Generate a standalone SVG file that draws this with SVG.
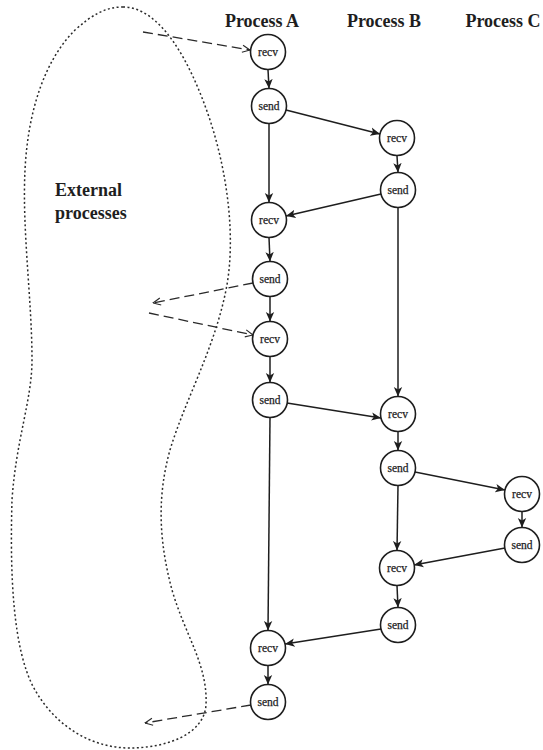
<svg xmlns="http://www.w3.org/2000/svg" width="543" height="750" viewBox="0 0 543 750">
  <style>
    .node circle { fill: #fff; stroke: #1e1e1e; stroke-width: 1.6; }
    .node text { font-family: "Liberation Serif", "Times New Roman", serif; font-size: 11.5px; fill: #222; stroke: #222; stroke-width: 0.25; text-anchor: middle; }
    .title { font-family: "Liberation Serif", "Times New Roman", serif; font-size: 18px; font-weight: bold; fill: #1e1e1e; }
    .msg { stroke: #1e1e1e; stroke-width: 1.5; fill: none; marker-end: url(#arrow); }
    .ext { stroke: #2a2a2a; stroke-width: 1.3; fill: none; stroke-dasharray: 10 5; marker-end: url(#open); }
    .blob { fill: none; stroke: #2a2a2a; stroke-width: 1.5; stroke-dasharray: 2 2.5; }
  </style>
  <defs>
    <marker id="arrow" viewBox="0 0 10 10" refX="10" refY="5" markerWidth="9.5" markerHeight="9.5" markerUnits="userSpaceOnUse" orient="auto">
      <path d="M0,0.6 L10,5 L0,9.4 L2.5,5 z" fill="#1e1e1e"/>
    </marker>
    <marker id="open" viewBox="0 0 10 10" refX="9.5" refY="5" markerWidth="9" markerHeight="9" markerUnits="userSpaceOnUse" orient="auto">
      <path d="M1,1 L9.5,5 L1,9" fill="none" stroke="#2a2a2a" stroke-width="1.3"/>
    </marker>
  </defs>

  <rect width="543" height="750" fill="#fff"/>

  <!-- region of external processes -->
  <path class="blob" d="M123 7 C160 7 190 60 210 120 C228 175 236 240 226 290 C214 350 185 400 170 450 C156 500 160 545 172 590 C185 635 208 665 206 705 C204 735 165 748 130 748 C90 748 55 725 35 690 C12 650 10 570 12 500 C16 440 32 400 32 360 C32 300 22 230 25 170 C28 110 45 60 75 30 C92 15 105 7 123 7 Z"/>

  <!-- column headings -->
  <text class="title" x="262" y="27" text-anchor="middle">Process A</text>
  <text class="title" x="384" y="27" text-anchor="middle">Process B</text>
  <text class="title" x="503" y="27" text-anchor="middle">Process C</text>
  <text class="title" x="55" y="196">External</text>
  <text class="title" x="55" y="219">processes</text>

  <g id="connectors">
    <!-- Process A -->
    <line class="msg" x1="268" y1="69.5" x2="269" y2="88.5"/>
    <line class="msg" x1="269" y1="123.5" x2="269" y2="202.5"/>
    <line class="msg" x1="269" y1="237.5" x2="270" y2="261.5"/>
    <line class="msg" x1="270" y1="296.5" x2="270" y2="321.5"/>
    <line class="msg" x1="270" y1="356.5" x2="270" y2="382.5"/>
    <line class="msg" x1="270" y1="417.5" x2="268" y2="630.5"/>
    <line class="msg" x1="268" y1="665.5" x2="268" y2="684.5"/>
    <!-- Process B -->
    <line class="msg" x1="397" y1="155.5" x2="398" y2="172.5"/>
    <line class="msg" x1="398" y1="207.5" x2="398" y2="396.5"/>
    <line class="msg" x1="398" y1="431.5" x2="398" y2="450.5"/>
    <line class="msg" x1="398" y1="485.5" x2="397" y2="550.5"/>
    <line class="msg" x1="397" y1="585.5" x2="398" y2="607.5"/>
    <!-- Process C -->
    <line class="msg" x1="522" y1="511.5" x2="522" y2="527.5"/>
    <!-- messages between processes -->
    <line class="msg" x1="286" y1="110" x2="380" y2="134"/>
    <line class="msg" x1="381" y1="194" x2="286" y2="216"/>
    <line class="msg" x1="287" y1="403" x2="381" y2="418"/>
    <line class="msg" x1="415" y1="472" x2="505" y2="490"/>
    <line class="msg" x1="505" y1="548" x2="414" y2="565"/>
    <line class="msg" x1="381" y1="629" x2="285" y2="644"/>
    <!-- messages to and from external processes -->
    <line class="ext" x1="143" y1="32" x2="250" y2="50"/>
    <line class="ext" x1="253" y1="283" x2="153" y2="303"/>
    <line class="ext" x1="149" y1="313" x2="253" y2="335"/>
    <line class="ext" x1="251" y1="705" x2="145" y2="723"/>
  </g>

  <g id="A1" class="node"><circle cx="268" cy="52" r="17.5"/><text x="268" y="55.5">recv</text></g>
  <g id="A2" class="node"><circle cx="269" cy="106" r="17.5"/><text x="269" y="109.5">send</text></g>
  <g id="A3" class="node"><circle cx="269" cy="220" r="17.5"/><text x="269" y="223.5">recv</text></g>
  <g id="A4" class="node"><circle cx="270" cy="279" r="17.5"/><text x="270" y="282.5">send</text></g>
  <g id="A5" class="node"><circle cx="270" cy="339" r="17.5"/><text x="270" y="342.5">recv</text></g>
  <g id="A6" class="node"><circle cx="270" cy="400" r="17.5"/><text x="270" y="403.5">send</text></g>
  <g id="A7" class="node"><circle cx="268" cy="648" r="17.5"/><text x="268" y="651.5">recv</text></g>
  <g id="A8" class="node"><circle cx="268" cy="702" r="17.5"/><text x="268" y="705.5">send</text></g>

  <g id="B1" class="node"><circle cx="397" cy="138" r="17.5"/><text x="397" y="141.5">recv</text></g>
  <g id="B2" class="node"><circle cx="398" cy="190" r="17.5"/><text x="398" y="193.5">send</text></g>
  <g id="B3" class="node"><circle cx="398" cy="414" r="17.5"/><text x="398" y="417.5">recv</text></g>
  <g id="B4" class="node"><circle cx="398" cy="468" r="17.5"/><text x="398" y="471.5">send</text></g>
  <g id="B5" class="node"><circle cx="397" cy="568" r="17.5"/><text x="397" y="571.5">recv</text></g>
  <g id="B6" class="node"><circle cx="398" cy="625" r="17.5"/><text x="398" y="628.5">send</text></g>

  <g id="C1" class="node"><circle cx="522" cy="494" r="17.5"/><text x="522" y="497.5">recv</text></g>
  <g id="C2" class="node"><circle cx="522" cy="545" r="17.5"/><text x="522" y="548.5">send</text></g>
</svg>
